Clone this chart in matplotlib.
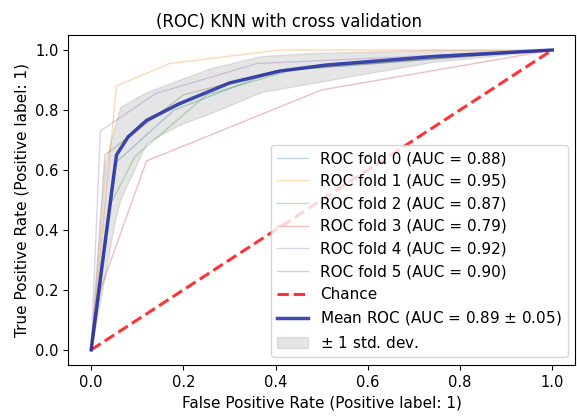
import matplotlib
matplotlib.use("Agg")
import matplotlib.pyplot as plt

# per-fold ROC points
fold_fpr = [
    [0.0, 0.05, 0.18, 0.40, 1.0],
    [0.0, 0.055, 0.17, 0.41, 1.0],
    [0.0, 0.04, 0.095, 0.25, 0.45, 1.0],
    [0.0, 0.02, 0.12, 0.50, 1.0],
    [0.0, 0.02, 0.14, 0.36, 1.0],
    [0.0, 0.03, 0.20, 0.40, 1.0],
]
fold_tpr = [
    [0.0, 0.62, 0.80, 0.93, 1.0],
    [0.0, 0.88, 0.955, 1.0, 1.0],
    [0.0, 0.48, 0.645, 0.85, 0.94, 1.0],
    [0.0, 0.20, 0.63, 0.867, 1.0],
    [0.0, 0.73, 0.855, 0.955, 1.0],
    [0.0, 0.65, 0.85, 0.93, 1.0],
]
fold_auc = [0.88, 0.95, 0.87, 0.79, 0.92, 0.90]

mean_fpr = [0.0, 0.055, 0.08, 0.12, 0.19, 0.30, 0.41, 0.51, 0.74, 1.0]
mean_tpr = [0.0, 0.65, 0.71, 0.765, 0.82, 0.89, 0.93, 0.95, 0.978, 1.0]
mean_auc, std_auc = 0.89, 0.05

band_fpr = [0.0, 0.03, 0.05, 0.063, 0.12, 0.19, 0.26, 0.37, 0.48, 0.74, 1.0]
band_upper = [0.0, 0.62, 0.74, 0.81, 0.86, 0.90, 0.94, 0.98, 0.99, 1.0, 1.0]
band_lower = [0.0, 0.25, 0.42, 0.50, 0.69, 0.75, 0.79, 0.86, 0.89, 0.96, 1.0]

fig = plt.figure(figsize=(5.77, 4.17), dpi=100)
ax = fig.add_axes([0.118, 0.125, 0.879, 0.791])

for i in range(len(fold_fpr)):
    ax.plot(fold_fpr[i], fold_tpr[i], lw=1, alpha=0.3,
            label=f"ROC fold {i} (AUC = {fold_auc[i]:.2f})")

ax.plot([0, 1], [0, 1], linestyle="--", lw=2.2, color="r", label="Chance", alpha=0.8)

ax.plot(mean_fpr, mean_tpr, color="#1f2aa0",
        label=r"Mean ROC (AUC = %0.2f $\pm$ %0.2f)" % (mean_auc, std_auc),
        lw=2.5, alpha=0.85)

ax.fill_between(band_fpr, band_lower, band_upper, color="grey", alpha=0.2,
                label=r"$\pm$ 1 std. dev.")

ax.set(xlim=[-0.05, 1.05], ylim=[-0.05, 1.05])
ax.set_title("(ROC) KNN with cross validation", fontsize=12, x=0.435)
ax.set_xlabel("False Positive Rate (Positive label: 1)", fontsize=11)
ax.set_ylabel("True Positive Rate (Positive label: 1)", fontsize=11)
ax.tick_params(labelsize=10.5)
ax.legend(loc="lower right", fontsize=11)

fig.savefig("out.png", dpi=100)
